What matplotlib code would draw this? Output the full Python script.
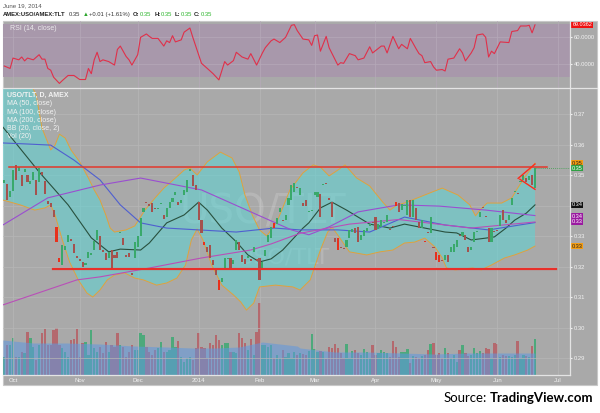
import numpy as np
import matplotlib
matplotlib.use('Agg')
import matplotlib.pyplot as plt
import matplotlib.transforms as mtransforms
from matplotlib.patches import Rectangle
from matplotlib.lines import Line2D

# ---------------- data ----------------
# bar index: 0 = first trading day of Oct 2013, last bar = Jun 19 2014
bar_idx = np.arange(-3, 181)

opens = [
    0.3475, 0.3470, 0.3430,
    0.3450, 0.3534, 0.3515, 0.3501, 0.3510, 0.3500, 0.3470, 0.3485, 0.3485, 0.3478,
    0.3510, 0.3480, 0.3415, 0.3410, 0.3386, 0.3330, 0.3230, 0.3206, 0.3255, 0.3280,
    0.3290, 0.3275, 0.3235, 0.3225, 0.3216, 0.3206, 0.3229, 0.3240, 0.3255, 0.3288,
    0.3300, 0.3255, 0.3245, 0.3229, 0.3255, 0.3240, 0.3250, 0.3310, 0.3295, 0.3239,
    0.3245, 0.3180, 0.3230, 0.3265, 0.3300, 0.3380, 0.3412, 0.3405, 0.3409, 0.3393,
    0.3390, 0.3405, 0.3370, 0.3363, 0.3393, 0.3412, 0.3435, 0.3412, 0.3410, 0.3435,
    0.3445, 0.3515, 0.3501, 0.3468, 0.3412, 0.3353, 0.3282, 0.3265, 0.3272, 0.3222,
    0.3196, 0.3157, 0.3150, 0.3196, 0.3225, 0.3229, 0.3210, 0.3255, 0.3280, 0.3239,
    0.3225, 0.3230, 0.3225, 0.3249, 0.3225, 0.3229, 0.3196, 0.3235, 0.3282, 0.3295,
    0.3345, 0.3340, 0.3380, 0.3355, 0.3353, 0.3403, 0.3419, 0.3445, 0.3460, 0.3435,
    0.3409, 0.3419, 0.3380, 0.3383, 0.3435, 0.3430, 0.3440, 0.3468, 0.3472, 0.3425,
    0.3412, 0.3295, 0.3295, 0.3265, 0.3260, 0.3265, 0.3295, 0.3315, 0.3327, 0.3330,
    0.3288, 0.3300, 0.3318, 0.3335, 0.3347, 0.3363, 0.3325, 0.3330, 0.3345, 0.3347,
    0.3325, 0.3335, 0.3412, 0.3409, 0.3385, 0.3400, 0.3370, 0.3419, 0.3363, 0.3393,
    0.3347, 0.3327, 0.3285, 0.3311, 0.3311, 0.3265, 0.3249, 0.3239, 0.3222, 0.3222,
    0.3239, 0.3249, 0.3249, 0.3265, 0.3305, 0.3300, 0.3305, 0.3265, 0.3255, 0.3282,
    0.3315, 0.3363, 0.3395, 0.3365, 0.3327, 0.3282, 0.3318, 0.3320, 0.3333, 0.3386,
    0.3353, 0.3353, 0.3403, 0.3445, 0.3440, 0.3478, 0.3485, 0.3491, 0.3485, 0.3501,
    0.3458,
]
closes = [
    0.3485, 0.3420, 0.3450,
    0.3517, 0.3485, 0.3528, 0.3465, 0.3520, 0.3478, 0.3480, 0.3511, 0.3435, 0.3524,
    0.3500, 0.3440, 0.3405, 0.3395, 0.3363, 0.3280, 0.3215, 0.3272, 0.3268, 0.3305,
    0.3285, 0.3245, 0.3229, 0.3218, 0.3200, 0.3212, 0.3249, 0.3245, 0.3285, 0.3321,
    0.3255, 0.3250, 0.3222, 0.3249, 0.3190, 0.3230, 0.3230, 0.3315, 0.3272, 0.3232,
    0.3232, 0.3173, 0.3280, 0.3300, 0.3360, 0.3393, 0.3410, 0.3400, 0.3380, 0.3390,
    0.3393, 0.3409, 0.3358, 0.3393, 0.3412, 0.3425, 0.3445, 0.3403, 0.3420, 0.3452,
    0.3485, 0.3520, 0.3465, 0.3452, 0.3353, 0.3311, 0.3272, 0.3249, 0.3229, 0.3206,
    0.3173, 0.3124, 0.3162, 0.3229, 0.3230, 0.3196, 0.3222, 0.3288, 0.3255, 0.3216,
    0.3210, 0.3235, 0.3220, 0.3265, 0.3220, 0.3157, 0.3216, 0.3255, 0.3305, 0.3330,
    0.3327, 0.3360, 0.3393, 0.3350, 0.3370, 0.3426, 0.3468, 0.3475, 0.3458, 0.3458,
    0.3400, 0.3400, 0.3382, 0.3386, 0.3445, 0.3445, 0.3363, 0.3470, 0.3470, 0.3420,
    0.3363, 0.3282, 0.3255, 0.3262, 0.3258, 0.3288, 0.3321, 0.3325, 0.3311, 0.3282,
    0.3305, 0.3321, 0.3327, 0.3340, 0.3345, 0.3321, 0.3340, 0.3353, 0.3347, 0.3370,
    0.3320, 0.3330, 0.3400, 0.3380, 0.3405, 0.3403, 0.3419, 0.3363, 0.3419, 0.3353,
    0.3327, 0.3353, 0.3280, 0.3310, 0.3363, 0.3262, 0.3222, 0.3216, 0.3218, 0.3239,
    0.3216, 0.3265, 0.3275, 0.3288, 0.3302, 0.3315, 0.3288, 0.3249, 0.3265, 0.3315,
    0.3318, 0.3380, 0.3393, 0.3363, 0.3282, 0.3327, 0.3315, 0.3318, 0.3370, 0.3353,
    0.3345, 0.3370, 0.3426, 0.3450, 0.3438, 0.3482, 0.3501, 0.3478, 0.3498, 0.3468,
    0.3523,
]
volume = [
    18, 30, 30,
    37, 18, 18, 23, 22, 43, 37, 28, 15, 30, 42, 46, 30, 30, 45, 47, 30, 27, 23, 18,
    35, 36, 46, 18, 32, 33, 20, 45, 27, 23, 28, 22, 33, 23, 30, 28, 42, 30, 28, 18,
    23, 30, 25, 25, 42, 40, 28, 23, 20, 25, 27, 33, 23, 23, 25, 38, 28, 34, 18, 13,
    17, 18, 15, 27, 42, 28, 27, 17, 32, 30, 40, 35, 30, 32, 32, 23, 23, 22, 42, 37,
    32, 25, 36, 20, 43, 72, 30, 30, 28, 30, 17, 20, 17, 25, 18, 22, 17, 23, 20,
    22, 21, 20, 24, 41, 26, 23, 24, 23, 16, 28, 27, 31, 27, 22, 17, 31, 17, 24, 25,
    22, 20, 26, 23, 17, 30, 20, 22, 25, 23, 22, 18, 34, 28, 18, 23, 23, 26, 12, 19,
    18, 17, 19, 20, 25, 31, 32, 20, 22, 17, 27, 22, 17, 20, 13, 25, 30, 22, 19, 20,
    27, 22, 24, 22, 27, 26, 17, 32, 31, 18, 20, 19, 19, 18, 20, 34, 17, 20, 19, 18,
    29, 36,
]
hl_bars = [15, 16, 66, 71, 90, 112, 132, 142, 146, 147]   # bright-red marked candles

volma_idx = [-3.5, 7, 18.5, 30, 41.5, 53, 62, 70, 78, 86, 98, 99, 111, 122, 134, 145, 157, 168, 180]
volma_val = [35, 32, 32, 31, 29, 28, 27, 27, 28, 33, 29, 27, 23, 23, 22, 21, 22, 22, 22]

month_pos = [0, 23, 43, 64, 85, 104, 125, 146, 167, 188]
month_lbl = ['Oct', 'Nov', 'Dec', '2014', 'Feb', 'Mar', 'Apr', 'May', 'Jun', 'Jul']

rsi_idx = [-3, -1, 0, 2, 3, 4, 5, 7, 9, 10, 11, 12, 13, 14, 16, 17, 19, 21, 23, 25,
           26, 27, 28, 29, 30, 31, 33, 35, 36, 37, 39, 40, 41, 43, 44, 46, 47, 48, 50, 52,
           53, 54, 55, 56, 58, 59, 61, 62, 64, 65, 67, 69, 71, 73, 74, 76, 77, 79, 81, 82,
           84, 86, 87, 89, 90, 92, 94, 96, 97, 98, 100, 102, 103, 104, 105, 106, 108, 109, 112, 113,
           114, 116, 118, 119, 121, 123, 124, 127, 128, 129, 131, 133, 134, 136, 137, 139, 140, 141, 142, 144,
           145, 146, 148, 149, 150, 152, 154, 155, 156, 158, 159, 160, 162, 163, 164, 165, 166, 168, 171, 172,
           174, 175, 177, 178, 179, 180]
rsi_val = [38.5, 36.7, 44.4, 43.1, 45.2, 42.3, 44.4, 43.1, 46.9, 43.6, 43.6, 36.7, 35.4, 30.2, 25.6, 27.7, 31.5, 31.5, 28.5, 28.5,
           36.7, 32.8, 43.1, 48.7, 41.8, 43.1, 41.8, 39.2, 50.8, 53.3, 45.6, 43.1, 39.2, 46.9, 59.8, 62.3, 60.5, 59.0, 59.0, 53.3,
           57.2, 55.9, 61.0, 56.4, 57.9, 63.6, 66.7, 59.8, 46.9, 40.5, 36.7, 32.8, 28.2, 41.8, 39.2, 42.5, 48.7, 45.2, 43.6, 47.7,
           39.2, 48.2, 52.1, 57.2, 58.5, 55.9, 59.8, 68.7, 69.2, 64.8, 58.5, 57.9, 53.8, 61.0, 61.5, 49.5, 60.5, 52.1, 39.2, 41.0,
           40.5, 47.7, 46.2, 43.1, 44.4, 52.8, 48.2, 53.3, 53.3, 48.2, 60.5, 51.3, 54.6, 51.3, 59.0, 51.3, 47.7, 46.2, 41.0, 41.8,
           37.9, 35.4, 35.9, 34.8, 43.6, 44.4, 51.3, 48.2, 42.3, 48.2, 52.1, 61.5, 62.3, 59.8, 45.2, 49.5, 47.7, 56.4, 55.9, 64.1,
           64.8, 68.2, 68.2, 68.7, 63.1, 69.0362]

ma50_idx = [-3.5, 4, 13, 21, 30, 37, 44, 53, 64, 77, 90, 99, 112, 123, 135, 149, 164, 180]
ma50_val = [0.3606, 0.3603, 0.3599, 0.3550, 0.3485, 0.3403, 0.3344, 0.3327, 0.3321, 0.3314,
            0.3327, 0.3321, 0.3321, 0.3314, 0.3363, 0.3337, 0.3321, 0.3345]
ma100_idx = [-3.5, 12, 30, 44, 65, 82, 96, 102, 109, 119, 133, 147, 163, 180]
ma100_val = [0.3337, 0.3426, 0.3468, 0.3491, 0.3452, 0.3380, 0.3321, 0.3305, 0.3331, 0.3380,
             0.3403, 0.3399, 0.3386, 0.3368]
ma200_idx = [-3.5, 22, 30, 47, 65, 82, 89, 99, 116, 133, 158, 180]
ma200_val = [0.3075, 0.3157, 0.3167, 0.3196, 0.3229, 0.3255, 0.3275, 0.3310, 0.3340, 0.3355,
             0.3327, 0.3347]

bb_mid_idx = [-3.5, 9, 19, 27, 33, 37, 44, 47, 53, 59, 64, 67, 72, 77, 81, 85, 89, 93, 100, 102,
              106, 110, 115, 123, 130, 135, 142, 149, 153, 158, 163, 166, 170, 173, 177, 180]
bb_mid_val = [0.3658, 0.3511, 0.3403, 0.3295, 0.3249, 0.3258, 0.3255, 0.3278, 0.3344, 0.3370,
              0.3412, 0.3386, 0.3327, 0.3282, 0.3239, 0.3216, 0.3226, 0.3255, 0.3327, 0.3344,
              0.3393, 0.3412, 0.3386, 0.3340, 0.3327, 0.3340, 0.3327, 0.3314, 0.3311, 0.3288,
              0.3294, 0.3298, 0.3327, 0.3353, 0.3376, 0.3403]
bb_up_idx = [-3.5, 2, 8, 10, 13, 14.5, 16, 18, 20, 23, 26, 28, 30, 32, 33.5, 35, 39, 42, 45.5, 49,
             52, 56, 59, 61, 63.5, 67, 71.5, 75.5, 78, 80, 82.5, 85, 87.5, 91, 95.5, 100, 103.5, 106, 109, 112,
             114.5, 118.5, 123, 127.5, 130, 132.5, 135, 139.5, 144.5, 148, 153.5, 157.5, 159.5, 161, 163.5,
             168.5, 172, 174, 176.5, 180]
bb_up_val = [0.3944, 0.3878, 0.3763, 0.3655, 0.3583, 0.3599, 0.3635, 0.3622, 0.3583, 0.3544,
             0.3491, 0.3452, 0.3419, 0.3370, 0.3327, 0.3314, 0.3321, 0.3334, 0.3386, 0.3426,
             0.3458, 0.3491, 0.3517, 0.3524, 0.3501, 0.3544, 0.3576, 0.3557, 0.3511, 0.3435,
             0.3370, 0.3321, 0.3301, 0.3347, 0.3452, 0.3508, 0.3534, 0.3527, 0.3498, 0.3517,
             0.3534, 0.3491, 0.3465, 0.3412, 0.3386, 0.3403, 0.3409, 0.3426, 0.3445, 0.3458,
             0.3435, 0.3403, 0.3367, 0.3386, 0.3409, 0.3409, 0.3426, 0.3458, 0.3494, 0.3540]
bb_lo_idx = [-3.5, 2.5, 7.5, 11, 13, 14.5, 17, 19.5, 22.5, 25.5, 27.5, 30, 32.5, 35, 38.5, 42, 45, 49.5,
             53, 56.5, 59.5, 61.5, 63.5, 65.5, 68.5, 72, 76, 78.5, 80.5, 83, 85, 90.5, 96.5, 99, 102.5,
             106, 108.5, 110, 112, 116, 122, 126.5, 131, 135, 138.5, 142, 145.5, 148, 149.5, 152.5,
             158.5, 161.5, 165, 169.5, 173, 177.5, 180]
bb_lo_val = [0.3419, 0.3403, 0.3386, 0.3393, 0.3403, 0.3370, 0.3288, 0.3216, 0.3157, 0.3114,
             0.3101, 0.3124, 0.3157, 0.3173, 0.3180, 0.3163, 0.3157, 0.3140, 0.3147, 0.3163,
             0.3206, 0.3288, 0.3324, 0.3288, 0.3206, 0.3140, 0.3108, 0.3085, 0.3058, 0.3081,
             0.3134, 0.3140, 0.3134, 0.3124, 0.3157, 0.3255, 0.3314, 0.3330, 0.3304, 0.3249,
             0.3239, 0.3249, 0.3255, 0.3278, 0.3281, 0.3294, 0.3265, 0.3229, 0.3196, 0.3190,
             0.3196, 0.3190, 0.3206, 0.3229, 0.3239, 0.3255, 0.3268]

# hand-drawn trend lines
resist_level = 0.3526
resist_span = [-1.4, 184.1]
support_level = 0.3194
support_span = [13.8, 187.2]
wedge_top = ([174.2, 180.0], [0.3490, 0.3537])
wedge_bot = ([174.8, 180.0], [0.3487, 0.3454])

# ---------------- layout helpers ----------------
W, H = 600, 413


def fx(px):
    return px / W


def fy(py):
    return 1 - py / H


GRAY = '#a9a9a9'
GRID = '#b6b6b6'
TXT = '#f2f2f2'
SMALL = ['Liberation Sans', 'DejaVu Sans']

fig = plt.figure(figsize=(6, 4.13), dpi=100)
fig.patch.set_facecolor('white')
fig.patches.append(Rectangle((fx(3), fy(385)), fx(597) - fx(3), fy(21) - fy(385),
                             transform=fig.transFigure, facecolor=GRAY,
                             edgecolor='#c8c8c8', lw=0.8, zorder=0))

xlim = (-3.45, 192.07)
rect_main = [fx(3), fy(375), fx(570) - fx(3), fy(88) - fy(375)]
vol_ax = fig.add_axes(rect_main, zorder=1)
ax = fig.add_axes(rect_main, zorder=2)
rsi_ax = fig.add_axes([fx(3), fy(88), fx(570) - fx(3), fy(21) - fy(88)], zorder=2)
for a in (vol_ax, ax, rsi_ax):
    a.set_facecolor('none')
    a.set_xlim(*xlim)
    for s in a.spines.values():
        s.set_visible(False)

ax.set_ylim(0.28453, 0.37862)
vol_ax.set_ylim(0, 287)
rsi_ax.set_ylim(22.2, 71.9)

# ---------------- RSI panel ----------------
rsi_ax.axhspan(30, 70, color='#a898ab', lw=0, zorder=0)
for m in month_pos:
    rsi_ax.axvline(m, color='#b5a9b8', lw=0.5, zorder=1)
for lv in (40, 60):
    rsi_ax.axhline(lv, color='#b5a9b8', lw=0.5, zorder=1)
rsi_ax.plot(rsi_idx, rsi_val, color='#e0304a', lw=0.8, zorder=3)
rsi_ax.set_xticks([])
rsi_ax.yaxis.tick_right()
rsi_ax.set_yticks([40, 60])
rsi_ax.set_yticklabels(['40.0000', '60.0000'], family=SMALL)
rsi_ax.tick_params(axis='y', colors=TXT, labelsize=4.2, length=1.5, pad=1)
rsi_ax.text(7 / 567 * (xlim[1] - xlim[0]) + xlim[0], 66.5, 'RSI (14, close)',
            color=TXT, fontsize=5, family=SMALL, va='center', alpha=0.9)
tr_r = mtransforms.blended_transform_factory(rsi_ax.transAxes, rsi_ax.transData)
rsi_ax.text(1.004, rsi_val[-1], f'{rsi_val[-1]:.4f}', transform=tr_r, color='white',
            fontsize=4.0, family=SMALL, va='center', ha='left', clip_on=False,
            bbox=dict(facecolor='#ee1111', edgecolor='none', pad=0.6))

# ---------------- volume ----------------
vcol = ['#2faa6c' if c >= o else '#b8545a' for o, c in zip(opens, closes)]
vol_ax.bar(bar_idx, volume, width=0.8, color=vcol, alpha=0.75, lw=0, zorder=2)
vol_ax.fill_between(volma_idx, 0, volma_val, color='#5f98e0', alpha=0.55, lw=0, zorder=3)
vol_ax.set_xticks([])
vol_ax.set_yticks([])

# ---------------- price panel ----------------
yt = np.arange(0.29, 0.375, 0.01)
ax.set_yticks(yt)
# the black basis marker sits on top of its grid label, as in the original
ax.set_yticklabels(['' if abs(v - bb_mid_val[-1]) < 0.0015 else f'{v:.2f}' for v in yt],
                   family=SMALL)
ax.yaxis.tick_right()
ax.tick_params(axis='y', colors=TXT, labelsize=4.2, length=1.5, pad=1)
ax.set_xticks(month_pos)
ax.set_xticklabels(month_lbl, family=SMALL)
ax.tick_params(axis='x', colors=TXT, labelsize=4.3, length=0, pad=2.5)
ax.grid(True, color=GRID, lw=0.5, zorder=0)
ax.set_axisbelow(True)

# watermark
ax.text(86, 0.3379, 'USO/TLT', color='white', alpha=0.16, fontsize=29,
        ha='center', va='center', zorder=1)
ax.text(93, 0.3232, 'USO/TLT', color='white', alpha=0.16, fontsize=16,
        ha='center', va='center', zorder=1)

# Bollinger band
poly_x = np.r_[bb_up_idx, bb_lo_idx[::-1]]
poly_y = np.r_[bb_up_val, bb_lo_val[::-1]]
ax.fill(poly_x, poly_y, color='#5cd6d6', alpha=0.55, lw=0, zorder=1.5)
ax.plot(bb_up_idx, bb_up_val, color='#e0a23c', lw=0.7, zorder=2)
ax.plot(bb_lo_idx, bb_lo_val, color='#e0a23c', lw=0.7, zorder=2)
ax.plot(bb_mid_idx, bb_mid_val, color='#28503e', lw=0.8, zorder=3)

# moving averages
ax.plot(ma50_idx, ma50_val, color='#4f5fd0', lw=0.8, zorder=3)
ax.plot(ma100_idx, ma100_val, color='#9a4ed0', lw=0.8, zorder=3)
ax.plot(ma200_idx, ma200_val, color='#b94fb8', lw=0.8, zorder=3)

# candles
o = np.array(opens)
c = np.array(closes)
body_lo = np.minimum(o, c)
body_h = np.maximum(np.abs(c - o), 0.00035)
ccol = ['#39a96b' if cc >= oo else '#a4524e' for oo, cc in zip(o, c)]
for i in hl_bars:
    ccol[i + 3] = '#e8301c'
ax.bar(bar_idx, body_h, bottom=body_lo, width=0.72, color=ccol, lw=0, zorder=4)

# drawn lines
ax.plot(resist_span, [resist_level] * 2, color='#e2382c', lw=1.1, zorder=5)
ax.plot(support_span, [support_level] * 2, color='#e8302a', lw=1.6, zorder=5)
ax.plot(*wedge_top, color='#ff2a1a', lw=1.0, zorder=5)
ax.plot(*wedge_bot, color='#ff2a1a', lw=1.0, zorder=5)
ax.plot([bar_idx[-1] + 0.5, xlim[1]], [closes[-1]] * 2, color='#3aa04a', lw=0.6,
        ls=(0, (1, 1.5)), zorder=5)

# price labels on the right axis
tr_m = mtransforms.blended_transform_factory(ax.transAxes, ax.transData)
box_kw = dict(transform=tr_m, fontsize=4.0, family=SMALL, ha='left', va='center',
              clip_on=False, zorder=6, linespacing=1.05)
boxes = [
    (bb_up_val[-1], f'{bb_up_val[-1]:.2f}', '#f39c12', '#222222'),
    (closes[-1], f'{closes[-1]:.2f}', '#2ea043', 'white'),
    (bb_mid_val[-1], f'{bb_mid_val[-1]:.2f}', '#111111', 'white'),
    ((ma100_val[-1] + ma50_val[-1]) / 2,
     f'{ma100_val[-1]:.2f}\n{ma50_val[-1]:.2f}', '#9a1aa0', 'white'),
    (bb_lo_val[-1], f'{bb_lo_val[-1]:.2f}', '#f39c12', '#222222'),
]
for v, s, fc, tc in boxes:
    ax.text(1.003, v, s, color=tc, bbox=dict(facecolor=fc, edgecolor='none', pad=0.5), **box_kw)

# legend rows (top-left of the price panel)
legend_rows = ['USO/TLT, D, AMEX', 'MA (50, close)', 'MA (100, close)',
               'MA (200, close)', 'BB (20, close, 2)', 'Vol (20)']
row_y = [95, 103.5, 112, 120.5, 129, 137]
for k, (txt, yy) in enumerate(zip(legend_rows, row_y)):
    fig.text(fx(7), fy(yy), txt, color=TXT, fontsize=5, family=SMALL,
             fontweight='bold' if k == 0 else 'normal', va='center', zorder=10)

# frame separators
for (xa, ya, xb, yb) in [(3, 88, 597, 88), (570, 21, 570, 375), (3, 375, 570, 375)]:
    fig.lines.append(Line2D([fx(xa), fx(xb)], [fy(ya), fy(yb)], transform=fig.transFigure,
                            color='#e4e4e4', lw=0.9, zorder=8))

# ---------------- header ----------------
fig.text(fx(3), fy(6), 'June 19, 2014', color='#555555', fontsize=4.4, family=SMALL, va='center')
header = [
    (3, 'AMEX:USO/AMEX:TLT', '#222222', 'bold'),
    (69, '0.35', '#333333', 'normal'),
    (83, '\u25b2', '#2aa52a', 'normal'),
    (89, '+0.01 (+1.61%)', '#333333', 'normal'),
    (133, 'O:', '#222222', 'bold'), (139.5, '0.35', '#2db52d', 'normal'),
    (154.5, 'H:', '#222222', 'bold'), (160.5, '0.35', '#2db52d', 'normal'),
    (174.5, 'L:', '#222222', 'bold'), (180.5, '0.35', '#2db52d', 'normal'),
    (194, 'C:', '#222222', 'bold'), (200.5, '0.35', '#2db52d', 'normal'),
]
for px, txt, col, wt in header:
    fig.text(fx(px), fy(14.7), txt, color=col, fontsize=4.2, family=SMALL,
             fontweight=wt, va='center')

# ---------------- source line ----------------
renderer = fig.canvas.get_renderer()
t_bold = fig.text(fx(593), fy(398), 'TradingView.com', ha='right', va='center',
                  fontsize=9.5, fontweight='bold', family=['Lato', 'DejaVu Sans'], color='black')
wb = t_bold.get_window_extent(renderer).width
fig.text(fx(593 - wb - 2.5), fy(398), 'Source:', ha='right', va='center',
         fontsize=9.5, family=['Lato', 'DejaVu Sans'], color='black')

fig.savefig('out.png', dpi=100, facecolor='white')
